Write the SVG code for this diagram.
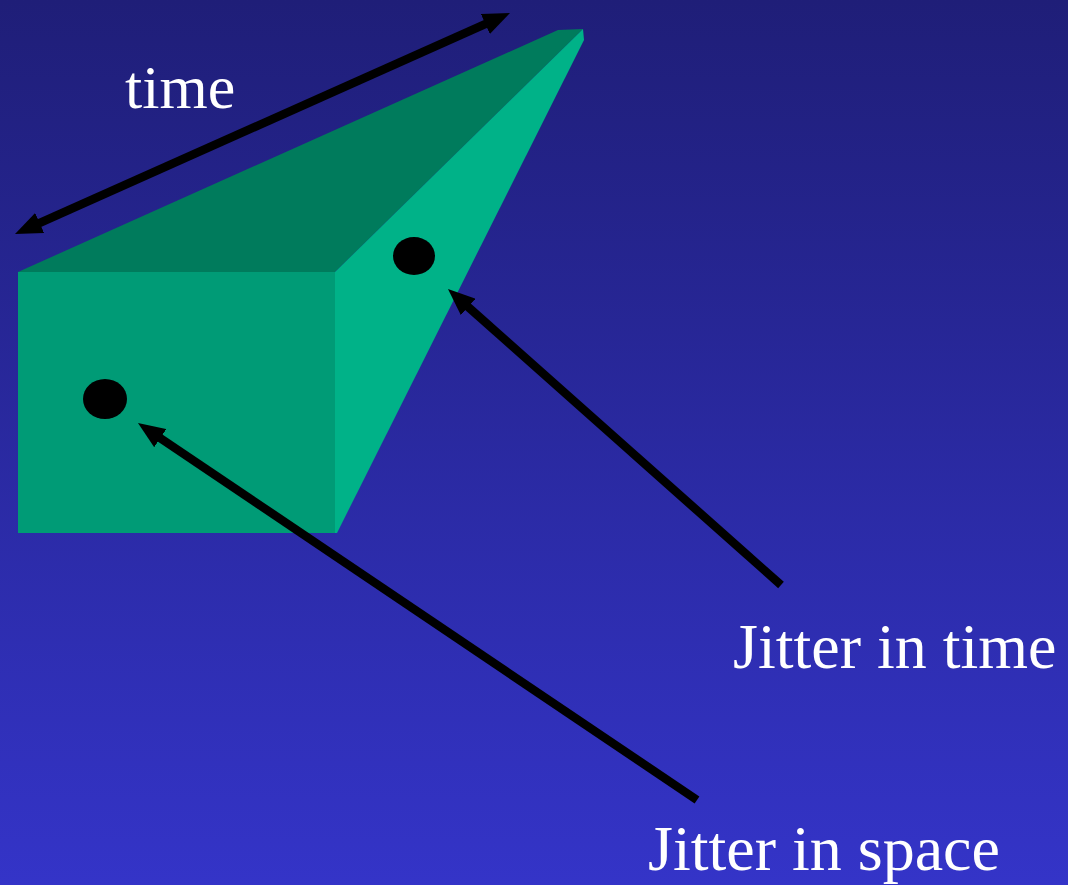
<svg xmlns="http://www.w3.org/2000/svg" width="1068" height="885" viewBox="0 0 1068 885">
<defs>
<linearGradient id="bg" x1="0" y1="0" x2="0" y2="1">
<stop offset="0" stop-color="#1f1e78"/>
<stop offset="1" stop-color="#3434c8"/>
</linearGradient>
<marker id="ah" viewBox="0 0 27 22" refX="12" refY="11" markerWidth="27" markerHeight="22" orient="auto-start-reverse" markerUnits="userSpaceOnUse">
<path d="M0,0 L27,11 L0,22 Z" fill="#000"/>
</marker>
<style>
.lbl{font-family:"Liberation Serif","Times New Roman",serif;fill:#fff;}
.arr{stroke:#000;stroke-width:8.5;fill:none;}
.dot{fill:#000;}
</style>
</defs>
<rect width="1068" height="885" fill="url(#bg)"/>
<g id="box">
<polygon points="18,272 335,272 583,29 558,30" fill="#007b5c"/>
<polygon points="335,272 583,29 584,40 337,533 335,533" fill="#00b288"/>
<rect x="18" y="272" width="317" height="261" fill="#009b76"/>
</g>
<g id="dot-time"><ellipse class="dot" cx="414" cy="256" rx="21" ry="19"/></g>
<g id="dot-space"><ellipse class="dot" cx="105" cy="399" rx="22" ry="20"/></g>
<g id="connectors">
<line class="arr" x1="28.7" y1="227.9" x2="496.3" y2="19.1" marker-start="url(#ah)" marker-end="url(#ah)"/>
<line class="arr" x1="781" y1="585" x2="459.2" y2="299" marker-end="url(#ah)"/>
<line class="arr" x1="697" y1="800" x2="150.4" y2="431.4" marker-end="url(#ah)"/>
</g>
<g id="label-time"><text class="lbl" x="125" y="108" font-size="62">time</text></g>
<g id="label-jtime"><text class="lbl" x="733" y="668" font-size="64">Jitter in time</text></g>
<g id="label-jspace"><text class="lbl" x="648" y="870" font-size="64">Jitter in space</text></g>
</svg>
